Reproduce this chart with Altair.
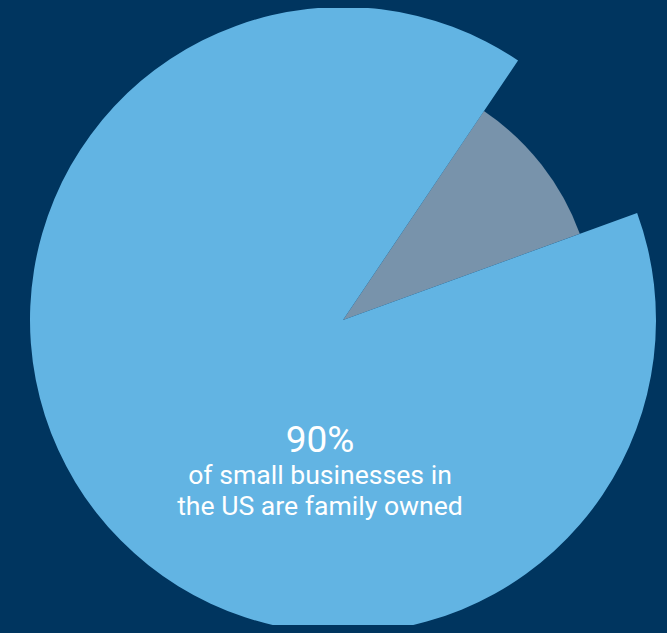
import math
import altair as alt
import pandas as pd

categories = ["Not family owned", "Family owned"]
shares = [10, 90]
headline = "90%"
caption = ["of small businesses in", "the US are family owned"]

BG = "#00355f"
BLUE = "#62b4e3"
GRAY = "#7893ab"

pie_df = pd.DataFrame({"category": categories, "share": shares, "rank": [0, 1]})
start = math.radians(34)

base = alt.Chart(pie_df).transform_window(
    cum="sum(share)", sort=[alt.SortField("rank")],
    frame=[None, 0]
).transform_calculate(prev="datum.cum - datum.share")

theta_scale = alt.Scale(domain=[0, 100], range=[start, start + 2 * math.pi])
enc = dict(
    theta=alt.Theta("prev:Q", scale=theta_scale),
    theta2="cum:Q",
    color=alt.Color("category:N",
                    scale=alt.Scale(domain=categories, range=[GRAY, BLUE]),
                    legend=None),
    x=alt.value(335),
    y=alt.value(312),
)

small = base.transform_filter(alt.datum.rank == 0).mark_arc(radius=252, stroke=None).encode(**enc)
large = base.transform_filter(alt.datum.rank == 1).mark_arc(radius=313, stroke=None).encode(**enc)

head = alt.Chart(pd.DataFrame({"t": [headline]})).mark_text(
    font="Roboto", fontSize=37, color="white", align="center", baseline="alphabetic"
).encode(text="t:N", x=alt.value(312), y=alt.value(443.5))

cap = alt.Chart(pd.DataFrame({"t": [caption]})).mark_text(
    font="Roboto", fontSize=26.6, color="white", align="center", baseline="alphabetic",
    lineHeight=31
).encode(text="t", x=alt.value(312), y=alt.value(476))

chart = alt.layer(small, large, head, cap).properties(
    width=651, height=617, padding=0, autosize="none", background=BG
).configure_view(stroke=None)

chart.save("out.html", embed_options={"renderer": "svg", "actions": False,
                                      "defaultStyle": "body { background: #00355f; }"})
